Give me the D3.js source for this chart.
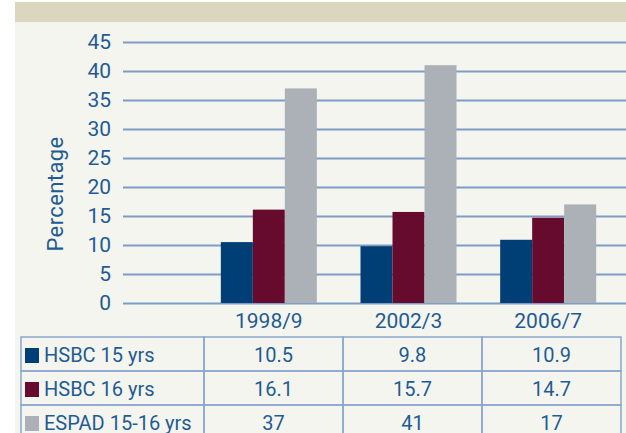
<!DOCTYPE html>
<html>
<head>
<meta charset="utf-8">
<script src="https://cdn.jsdelivr.net/npm/d3@7"></script>
<style>
  body { margin: 0; background: #fff; }
  text { font-family: Roboto, "Liberation Sans", sans-serif; fill: #1f5b94; }
</style>
</head>
<body>
<svg id="chart"></svg>
<script>
const width = 626;
const height = 433;

const categories = ["1998/9", "2002/3", "2006/7"];
const seriesNames = ["HSBC 15 yrs", "HSBC 16 yrs", "ESPAD 15-16 yrs"];
const hsbc15 = [10.5, 9.8, 10.9];
const hsbc16 = [16.1, 15.7, 14.7];
const espad = [37, 41, 17];
const yTicks = [0, 5, 10, 15, 20, 25, 30, 35, 40, 45];
const colors = ["#003f75", "#660a2e", "#acb0b7"];

const series = [hsbc15, hsbc16, espad];

let svg = d3.select("#chart").attr("width", width).attr("height", height);

// header band + panel
svg.append("rect").attr("x", 15).attr("y", 2).attr("width", width - 15).attr("height", 20).attr("fill", "#dbd6be");
svg.append("rect").attr("x", 15).attr("y", 22).attr("width", width - 15).attr("height", height - 22).attr("fill", "#f5f5f0");

const y = d3.scaleLinear().domain([0, 45]).range([303, 42]);
const xBar = d3.scaleBand().domain(categories).range([199, 618]);
const inner = d3.scaleBand().domain(d3.range(series.length)).range([0, 96]);
const xTab = d3.scaleBand().domain(categories).range([204, 621]);

// y axis with gridlines
const yAxis = svg.append("g")
    .attr("transform", "translate(123,0)")
    .call(d3.axisLeft(y).tickValues(yTicks).tickSize(-(width - 123)).tickPadding(12));
yAxis.select(".domain").remove();
yAxis.selectAll(".tick line").attr("stroke", "#7f9cc6").attr("stroke-width", 2);
yAxis.selectAll(".tick text")
    .style("font-family", "Roboto, sans-serif")
    .style("font-size", "21px")
    .attr("fill", "#1f5b94");

svg.append("text")
    .attr("transform", "translate(63,194) rotate(-90)")
    .attr("text-anchor", "middle")
    .style("font-size", "22px")
    .style("letter-spacing", "0.4px")
    .text("Percentage");

// bars
series.forEach((vals, s) => {
    svg.append("g").selectAll("rect")
        .data(vals)
        .enter()
        .append("rect")
        .attr("x", (d, i) => xBar(categories[i]) + (xBar.bandwidth() - 96) / 2 + inner(s))
        .attr("y", d => y(d))
        .attr("width", inner.bandwidth())
        .attr("height", d => y(0) - y(d))
        .attr("fill", colors[s]);
});

// category labels
svg.selectAll(".cat")
    .data(categories)
    .enter()
    .append("text")
    .attr("class", "cat")
    .attr("x", d => xBar(d) + xBar.bandwidth() / 2)
    .attr("y", 328)
    .attr("text-anchor", "middle")
    .style("font-size", "21px")
    .text(d => d);

// data table
const rowTop = 337;
const rowH = 34;
const table = svg.append("g");

seriesNames.forEach((name, r) => {
    const ty = rowTop + r * rowH;
    table.append("rect")
        .attr("x", 21).attr("y", ty).attr("width", 204 - 21).attr("height", rowH)
        .attr("fill", "none").attr("stroke", "#8aa6cf").attr("stroke-width", 1.5);
    table.append("rect")
        .attr("x", 25).attr("y", ty + 11).attr("width", 14).attr("height", 15)
        .attr("fill", colors[r]);
    table.append("text")
        .attr("x", 44).attr("y", ty + 25)
        .style("font-size", "20px")
        .text(name);

    categories.forEach((c, i) => {
        table.append("rect")
            .attr("x", xTab(c)).attr("y", ty).attr("width", xTab.bandwidth()).attr("height", rowH)
            .attr("fill", "none").attr("stroke", "#8aa6cf").attr("stroke-width", 1.5);
        table.append("text")
            .attr("x", xTab(c) + xTab.bandwidth() / 2).attr("y", ty + 25)
            .attr("text-anchor", "middle")
            .style("font-size", "20px")
            .text(series[r][i]);
    });
});
</script>
</body>
</html>
